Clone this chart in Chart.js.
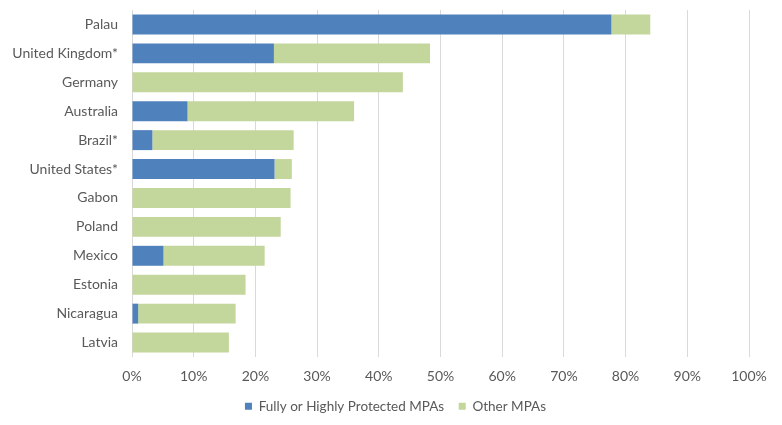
<!DOCTYPE html>
<html>
<head>
<meta charset="utf-8">
<script src="https://cdn.jsdelivr.net/npm/chart.js@4"></script>
<style>
  html, body { margin: 0; padding: 0; background: #ffffff; }
  #wrap { width: 782px; height: 425px; }
</style>
</head>
<body>
<div id="wrap"><canvas id="c" width="782" height="425"></canvas></div>
<script>
const countries = ["Palau", "United Kingdom*", "Germany", "Australia", "Brazil*", "United States*", "Gabon", "Poland", "Mexico", "Estonia", "Nicaragua", "Latvia"];
const fullyProtected = [77.7, 23.0, 0, 9.0, 3.3, 23.1, 0, 0, 5.1, 0, 1.0, 0];
const otherMPAs = [6.3, 25.3, 43.9, 27.0, 22.9, 2.8, 25.7, 24.1, 16.4, 18.4, 15.8, 15.7];
const seriesNames = ["Fully or Highly Protected MPAs", "Other MPAs"];

const FONT = "Lato, 'Liberation Sans', Arial, sans-serif";
const TXT = "#595959";

const legendShift = {
  id: 'legendShift',
  afterLayout(chart) {
    const lg = chart.legend;
    if (lg) { lg.left += 21; lg.right += 21; }
  }
};

new Chart(document.getElementById('c'), {
  type: 'bar',
  data: {
    labels: countries,
    datasets: [
      { label: seriesNames[0], data: fullyProtected, backgroundColor: '#4F81BD', borderWidth: 0, barPercentage: 0.69, categoryPercentage: 1.0 },
      { label: seriesNames[1], data: otherMPAs, backgroundColor: '#C3D69B', borderWidth: 0, barPercentage: 0.69, categoryPercentage: 1.0 }
    ]
  },
  plugins: [legendShift],
  options: {
    indexAxis: 'y',
    responsive: false,
    animation: false,
    devicePixelRatio: 1,
    layout: { padding: { top: 10, right: 33, left: 0, bottom: 2 } },
    plugins: {
      tooltip: { enabled: false },
      legend: {
        position: 'bottom',
        labels: {
          color: TXT,
          font: { family: FONT, size: 13.5 },
          boxWidth: 7, boxHeight: 7,
          padding: 14.5
        }
      }
    },
    scales: {
      x: {
        stacked: true,
        min: 0, max: 100,
        ticks: { stepSize: 10, color: TXT, font: { family: FONT, size: 14 }, padding: 11, callback: v => v + '%' },
        grid: { color: '#d9d9d9', lineWidth: 1, drawTicks: false },
        border: { display: false },
        afterFit: s => { s.height = 28; }
      },
      y: {
        stacked: true,
        ticks: { color: TXT, font: { family: FONT, size: 14 }, padding: 14 },
        grid: { display: false, drawTicks: false },
        border: { display: false },
        afterFit: s => { s.width = 132; s.paddingTop = 0; s.paddingBottom = 0; }
      }
    }
  }
});
</script>
</body>
</html>
